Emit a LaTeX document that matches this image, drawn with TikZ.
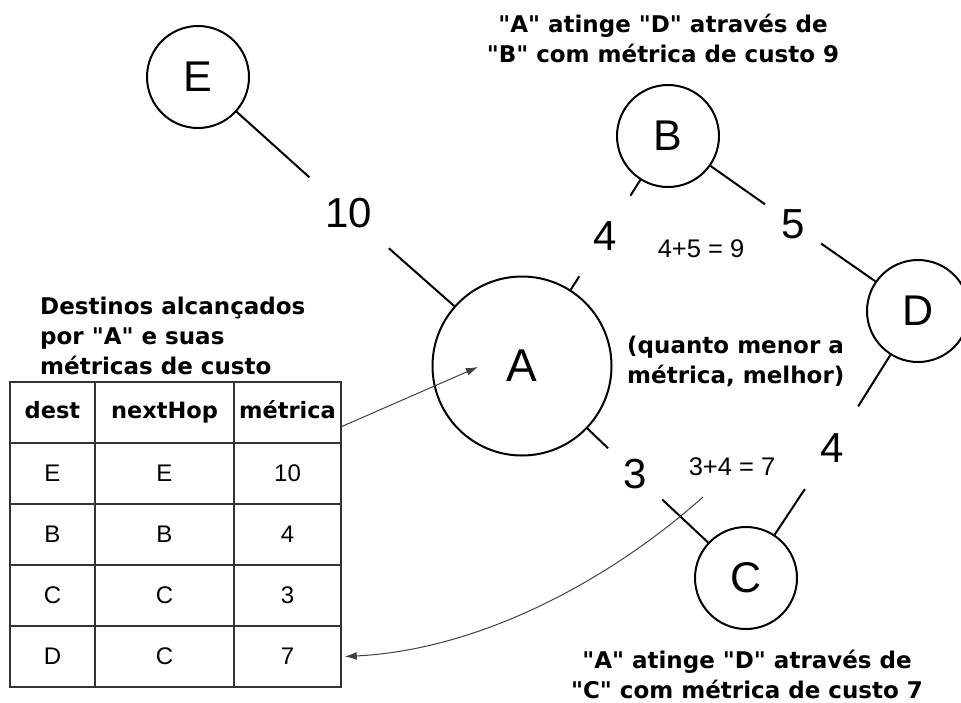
\documentclass[tikz,border=0pt]{standalone}
\usepackage{fontspec}
\setmainfont{Liberation Sans}
\newfontfamily\boldfam{DejaVu Sans}
\usetikzlibrary{arrows.meta}
\begin{document}
\begin{tikzpicture}[x=1pt,y=-1pt,
  router/.style={circle,draw=black,line width=2pt,inner sep=0pt,minimum size=102pt,font=\fontsize{43}{43}\selectfont},
  bigrouter/.style={router,minimum size=179pt,font=\fontsize{46}{46}\selectfont},
  elabel/.style={circle,inner sep=0pt,font=\fontsize{42}{42}\selectfont},
  edge/.style={line width=2pt,black},
  sumlabel/.style={font=\fontsize{25.5}{25.5}\selectfont},
  note/.style={font=\boldfam\bfseries\fontsize{23}{30}\selectfont,inner sep=0pt},
  cell/.style={draw=black!80,line width=1.5pt,inner sep=0pt,minimum height=61pt,font=\fontsize{24}{24}\selectfont},
  hcell/.style={cell,text height=17pt,text depth=5pt,font=\boldfam\bfseries\fontsize{22.5}{22.5}\selectfont},
  pointer/.style={draw=black!75,line width=1pt,-{Latex[length=12pt,width=8pt]}}
]
\useasboundingbox (0,0) rectangle (961,702);

% routers
\node[router] (E) at (198,77) {E};
\node[router] (B) at (668,136) {B};
\node[router] (D) at (918,311) {D};
\node[router] (C) at (746,578) {C};
\node[bigrouter] (A) at (522,366) {A};

% edge labels
\node[elabel,minimum size=106pt] (l10) at (349,213) {10};
\node[elabel,minimum size=95pt] (l4b) at (605,236) {4};
\node[elabel,minimum size=68pt] (l5) at (793,224) {5};
\node[elabel,minimum size=98pt] (l4d) at (832,448) {4};
\node[elabel,minimum size=74pt] (l3) at (635,474) {3};

\draw[edge] (E) -- (l10);
\draw[edge] (l10) -- (A);
\draw[edge] (A) -- (l4b);
\draw[edge] (l4b) -- (B);
\draw[edge] (B) -- (l5);
\draw[edge] (l5) -- (D);
\draw[edge] (D) -- (l4d);
\draw[edge] (l4d) -- (C);
\draw[edge] (A) -- (l3);
\draw[edge] (l3) -- (C);

% sums
\node[sumlabel] (s9) at (701,249) {4+5 = 9};
\node[sumlabel] (s7) at (732,467) {3+4 = 7};

% notes
\node[note,align=center] (topnote) at (663,38) {"A" atinge "D" através de\\"B" com métrica de custo 9};
\node[note,align=center] (botnote) at (747,674) {"A" atinge "D" através de\\"C" com métrica de custo 7};
\node[note,align=left,anchor=west] (better) at (627,361) {(quanto menor a\\métrica, melhor)};
\node[note,align=left,anchor=west] (tabtitle) at (40,336) {Destinos alcançados\\por "A" e suas\\métricas de custo};

% table
\node[hcell,minimum width=85pt] (h1) at (52.5,412.5) {dest};
\node[hcell,minimum width=139pt] (h2) at (164.5,412.5) {nextHop};
\node[hcell,minimum width=107pt] (h3) at (287.5,412.5) {métrica};
\node[cell,minimum width=85pt] (r1a) at (52.5,473.5) {E};
\node[cell,minimum width=139pt] (r1b) at (164.5,473.5) {E};
\node[cell,minimum width=107pt] (r1c) at (287.5,473.5) {10};
\node[cell,minimum width=85pt] (r2a) at (52.5,534.5) {B};
\node[cell,minimum width=139pt] (r2b) at (164.5,534.5) {B};
\node[cell,minimum width=107pt] (r2c) at (287.5,534.5) {4};
\node[cell,minimum width=85pt] (r3a) at (52.5,595.5) {C};
\node[cell,minimum width=139pt] (r3b) at (164.5,595.5) {C};
\node[cell,minimum width=107pt] (r3c) at (287.5,595.5) {3};
\node[cell,minimum width=85pt] (r4a) at (52.5,656.5) {D};
\node[cell,minimum width=139pt] (r4b) at (164.5,656.5) {C};
\node[cell,minimum width=107pt] (r4c) at (287.5,656.5) {7};

% pointers
\coordinate (tA) at (478,367);
\coordinate (c7) at (703,497);
\draw[pointer] ([yshift=-14pt]h3.east) -- (tA);
\draw[pointer] (c7) .. controls (610,580) and (480,650) .. ([xshift=3pt]r4c.east);
\end{tikzpicture}
\end{document}
